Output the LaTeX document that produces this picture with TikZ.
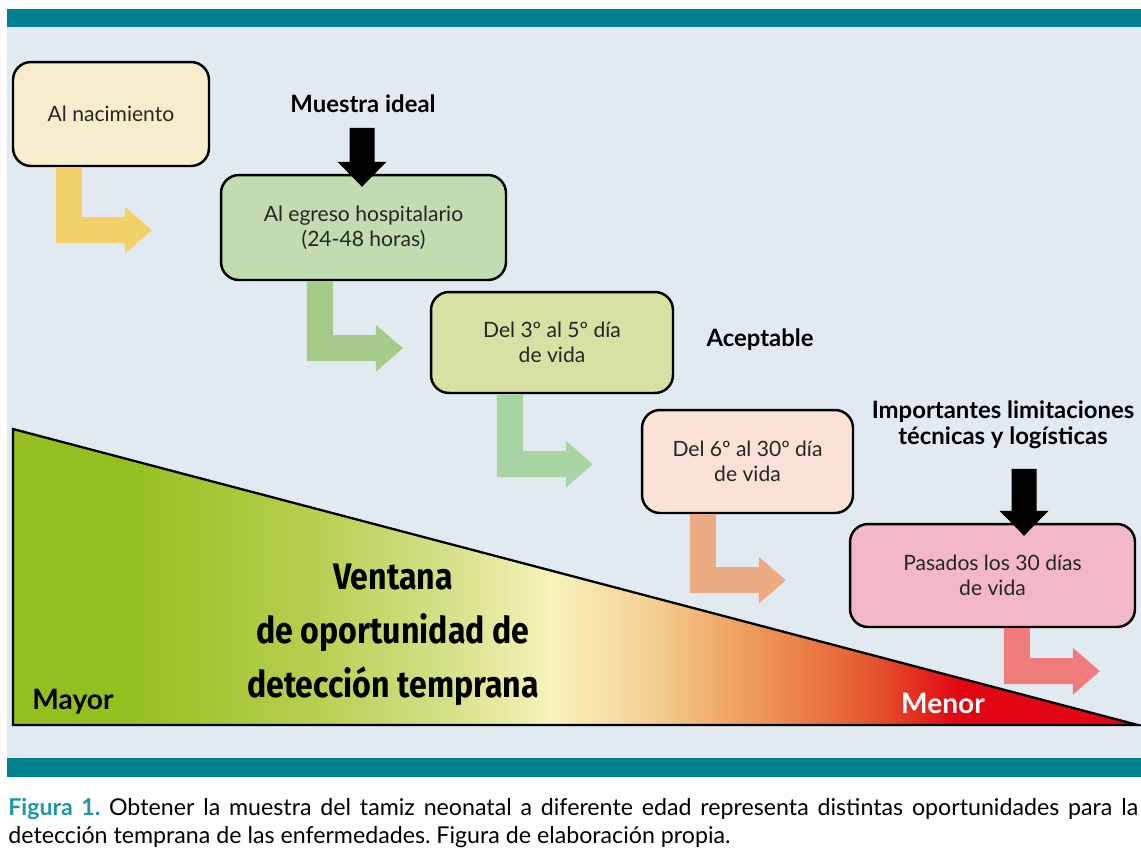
\documentclass[tikz,border=0pt]{standalone}
\usepackage{fontspec}
\setmainfont{Lato}
\newfontfamily\condfont[FakeStretch=0.87]{Fira Sans}
\usetikzlibrary{calc}

\definecolor{bandteal}{HTML}{00818F}
\definecolor{panel}{HTML}{E1EAF1}
\definecolor{capteal}{HTML}{1E95A8}
\definecolor{fillnac}{HTML}{F7ECCB}
\definecolor{fillegr}{HTML}{C1DCB1}
\definecolor{filltres}{HTML}{D8E0A3}
\definecolor{fillseis}{HTML}{FAE3D6}
\definecolor{fillpas}{HTML}{F3B8C7}
\definecolor{arryellow}{HTML}{F4D168}
\definecolor{arrgreen}{HTML}{A6CA89}
\definecolor{arrmint}{HTML}{A8D4A4}
\definecolor{arrorange}{HTML}{EDAB83}
\definecolor{arrred}{HTML}{EF7B7B}
\definecolor{gA}{HTML}{93C01F}
\definecolor{gB}{HTML}{B5CE4E}
\definecolor{gC}{HTML}{D3DF86}
\definecolor{gD}{HTML}{F8F3BA}
\definecolor{gE}{HTML}{F4D399}
\definecolor{gF}{HTML}{F0AA6A}
\definecolor{gG}{HTML}{EB8149}
\definecolor{gH}{HTML}{E4502C}
\definecolor{gI}{HTML}{E20613}

\pgfdeclarehorizontalshading{ventana}{100bp}{color(0bp)=(gA); color(30bp)=(gA);
  color(38bp)=(gB); color(44bp)=(gC); color(49bp)=(gD); color(53bp)=(gE);
  color(56.5bp)=(gF); color(60bp)=(gG); color(63.5bp)=(gH); color(67bp)=(gI);
  color(100bp)=(gI)}

\tikzstyle{boxy} = [rectangle, rounded corners=0.36cm, draw=black, line width=1.4pt,
text centered, align=center, text=black!85, font=\fontsize{12}{14.4}\selectfont]
\tikzstyle{tag} = [align=center, font=\bfseries\fontsize{13.6}{14.8}\selectfont]
\tikzstyle{bigtag} = [align=center, font=\condfont\bfseries\fontsize{21}{30.6}\selectfont]
\tikzstyle{endtag} = [font=\bfseries\fontsize{16}{18}\selectfont]
\tikzstyle{captext} = [anchor=base west, inner sep=0pt, font=\frenchspacing\fontsize{13.2}{15}\selectfont]

% bent arrow below a box: node, x offset, drop, colour
\newcommand{\bentarrow}[4]{%
  \fill[#4] ($(#1.south west)+(#2,0)$) -- ++(26,0) -- ++(0,#3-26) -- ++(43,0)
    -- ++(0,-10.5) -- ++(27,23.5) -- ++(-27,23.5) -- ++(0,-10.5) -- ++(-69,0) -- cycle;}
% black block arrow: tip, shaft length
\newcommand{\blockarrow}[2]{%
  \fill[black] ($(#1)+(-12.5,-25-#2)$) -- ++(25,0) -- ++(0,#2) -- ++(12,0)
    -- (#1) -- ++(-24.5,-25) -- ++(12,0) -- cycle;}

\begin{document}
\begin{tikzpicture}[x=0.02cm, y=-0.02cm]
        \useasboundingbox (0,0) rectangle (1141,850);
        \fill[white] (0,0) rectangle (1141,850);
        \fill[panel] (7,27) rectangle (1141,758);
        \fill[bandteal] (7,9) rectangle (1141,27);
        \fill[bandteal] (7,758) rectangle (1141,777);
        %
        \shade[shading=ventana] (13,429) -- (13,725) -- (1138,725) -- cycle;
        \draw[line width=1.3pt, line join=miter] (13,429) -- (13,725) -- (1138,725) -- cycle;
        \node (ventana) [bigtag] at (393,635) {Ventana\\de oportunidad de\\detección temprana};
        \node (mayor) [endtag] at (73,702) {Mayor};
        \node (menor) [endtag, text=white] at (943,703) {Menor};
        %
        \node (nac) [boxy, fill=fillnac, minimum width=3.92cm, minimum height=2.08cm] at (111,114) {Al nacimiento};
        \node (egreso) [boxy, fill=fillegr, minimum width=5.7cm, minimum height=2.1cm] at (363.5,227.5) {Al egreso hospitalario\\(24-48 horas)};
        \node (tres) [boxy, fill=filltres, minimum width=4.84cm, minimum height=2.02cm] at (552,342.5) {Del 3º al 5º día\\de vida};
        \node (seis) [boxy, fill=fillseis, minimum width=4.22cm, minimum height=2.06cm] at (747.5,461.5) {Del 6º al 30º día\\de vida};
        \node (pasados) [boxy, fill=fillpas, minimum width=5.7cm, minimum height=2.06cm] at (992.5,575.5) {Pasados los 30 días\\de vida};
        %
        \bentarrow{nac}{44}{76}{arryellow}
        \bentarrow{egreso}{87}{80}{arrgreen}
        \bentarrow{tres}{67}{83}{arrmint}
        \bentarrow{seis}{49}{79}{arrorange}
        \bentarrow{pasados}{155}{56}{arrred}
        %
        \node (ideal) [tag] at (363,104) {Muestra ideal};
        \node (aceptable) [tag] at (760,340) {Aceptable};
        \node (limites) [tag] at (1003,425) {Importantes limitaciones\\técnicas y logísticas};
        \coordinate (idealtip) at ($(egreso.north)+(-1.5,13)$);
        \coordinate (limtip) at ($(pasados.north)+(31.5,13)$);
        \blockarrow{idealtip}{34}
        \blockarrow{limtip}{42}
        %
        \node (caption1) [captext] at (8,815)
        {\makebox[22.6cm][s]{\textcolor{capteal}{\bfseries Figura 1.} Obtener la muestra del tamiz neonatal a diferente edad representa distintas oportunidades para la}};
        \node (caption2) [captext] at (8,843)
        {detección temprana de las enfermedades. Figura de elaboración propia.};
    \end{tikzpicture}
\end{document}
